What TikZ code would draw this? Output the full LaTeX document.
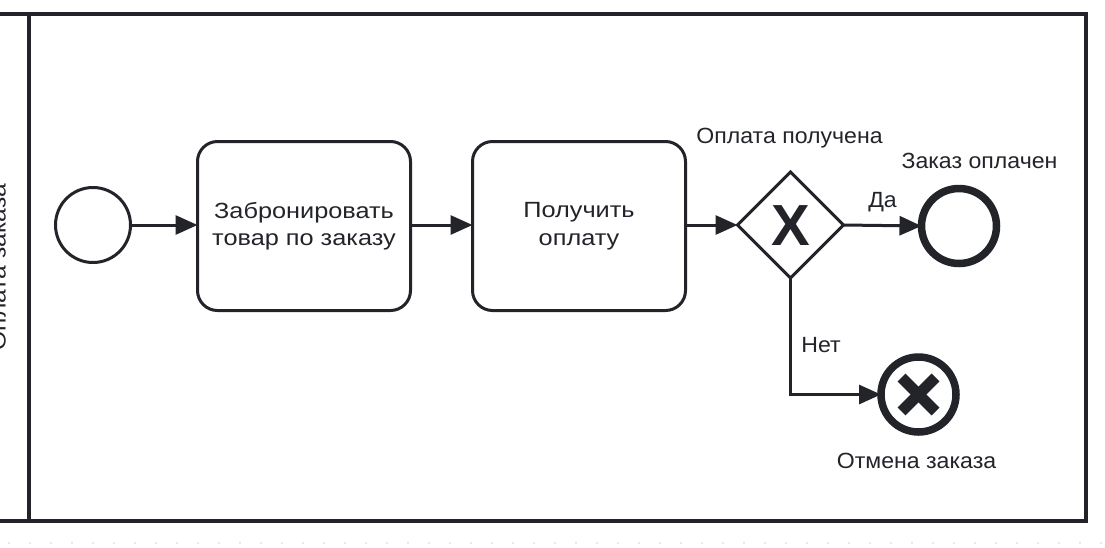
\documentclass[tikz,border=0pt]{standalone}
\usepackage{fontspec}
\setmainfont{Liberation Sans}
\newfontfamily\taskfont[FakeStretch=1.15]{Liberation Sans}
\newfontfamily\lblfont[FakeStretch=1.05]{Liberation Sans}
\newfontfamily\lanefont[FakeStretch=1.12]{Liberation Sans}
\usetikzlibrary{arrows.meta,shapes.geometric}
\definecolor{ink}{RGB}{34,36,42}
\definecolor{griddot}{RGB}{212,212,216}
\begin{document}
\begin{tikzpicture}[x=1pt,y=-1pt,
  every node/.style={inner sep=0pt,outer sep=0pt,text=ink},
  lbl/.style={font=\lblfont\fontsize{22}{27.5}\selectfont},
  task/.style={draw=ink,line width=3pt,rounded corners=20pt,minimum width=213pt,minimum height=169pt,align=center,font=\taskfont\fontsize{22}{27.5}\selectfont},
  startev/.style={circle,draw=ink,line width=3pt,minimum size=75pt},
  endev/.style={circle,draw=ink,line width=7.5pt,minimum size=75pt},
  gw/.style={diamond,draw=ink,line width=3pt,minimum width=106pt,minimum height=106pt,aspect=1},
  flow/.style={draw=ink,line width=3pt,-{Triangle[length=22pt,width=19pt]}},
]
\useasboundingbox (0,0) rectangle (1105,547);
\fill[white] (0,0) rectangle (1105,547);
% grid dots below the pool
\foreach \i in {0,...,52} {\fill[griddot] (9+21*\i,543) circle (0.9pt);}
% pool
\draw[ink,line width=4pt] (-10,14) rectangle (1086,521);
\draw[ink,line width=4pt] (29,14) -- (29,521);
\node[font=\lanefont\fontsize{22}{27.5}\selectfont,rotate=90,anchor=base] (lane) at (5.5,267) {Оплата заказа};
% nodes
\node[startev] (s) at (93,225) {};
\node[task] (t1) at (304,226) {Забронировать\\товар по заказу};
\node[task] (t2) at (579,226) {Получить\\оплату};
\node[gw] (g) at (790.5,225) {};
\node[font=\fontsize{58}{58}\selectfont\bfseries] (gx) at (790.5,226) {X};
\node[endev] (e1) at (959,226) {};
\node[endev] (e2) at (918.5,394.5) {};
\draw[ink,line width=11pt] ([shift={(-17,-17)}]e2.center) -- ([shift={(17,17)}]e2.center);
\draw[ink,line width=11pt] ([shift={(17,-17)}]e2.center) -- ([shift={(-17,17)}]e2.center);
% labels
\node[lbl,anchor=base] (lg) at (789.5,143) {Оплата получена};
\node[lbl,anchor=base] (le1) at (979.5,168) {Заказ оплачен};
\node[lbl,anchor=base] (le2) at (916.5,468) {Отмена заказа};
\node[lbl,anchor=base] (lda) at (882.5,207) {Да};
\node[lbl,anchor=base] (lnet) at (821,352) {Нет};
% flows
\draw[flow] (s.east) -- (t1.west |- s.east);
\draw[flow] (t1.east |- s.east) -- (t2.west |- s.east);
\draw[flow] (t2.east |- s.east) -- (g.west);
\draw[flow] (g.east) -- (e1.west);
\draw[flow] (g.south) |- (e2.west);
\end{tikzpicture}
\end{document}
